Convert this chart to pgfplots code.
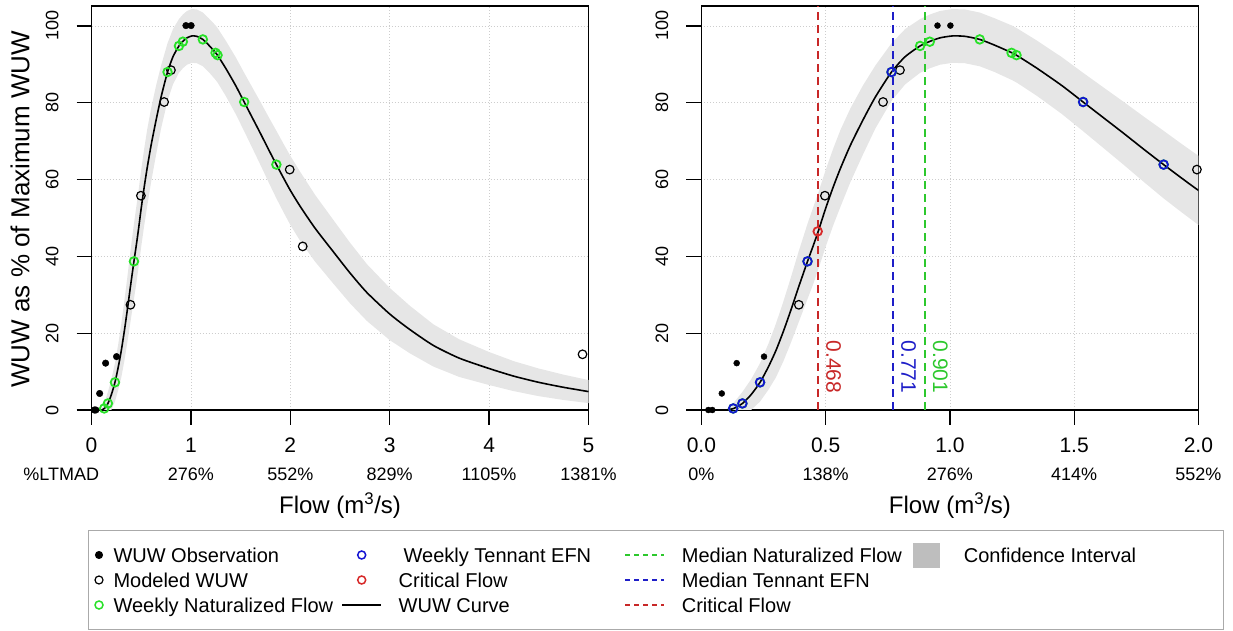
\documentclass[border=0pt]{standalone}
\usepackage{fontspec}
\setmainfont{Liberation Sans}
\usepackage{pgfplots}
\usepackage{pgfplotstable}
\pgfplotsset{compat=1.18}

\definecolor{ptgreen}{RGB}{40,225,40}
\definecolor{lngreen}{RGB}{45,200,45}
\definecolor{ptblue}{RGB}{20,20,210}
\definecolor{lnblue}{RGB}{30,30,200}
\definecolor{ptred}{RGB}{215,40,40}
\definecolor{lnred}{RGB}{200,40,40}
\definecolor{bandc}{RGB}{230,230,230}
\definecolor{legsq}{RGB}{190,190,190}
\definecolor{gridc}{RGB}{205,205,205}
\definecolor{legbd}{RGB}{170,170,170}

% fitted WUW curve
\pgfplotstableread{
x y
0.10 0.0
0.13 0.4
0.165 1.7
0.20 4.0
0.236 7.2
0.27 11.3
0.30 15.5
0.33 20.5
0.36 26.0
0.39 31.8
0.427 38.7
0.45 42.8
0.47 46.5
0.50 52.5
0.53 58.0
0.56 63.0
0.60 69.0
0.65 75.5
0.70 81.5
0.765 88.0
0.82 92.0
0.88 94.8
0.92 96.0
0.96 96.9
1.01 97.4
1.06 97.3
1.12 96.5
1.18 95.0
1.25 93.0
1.27 92.3
1.35 89.0
1.45 84.5
1.536 80.2
1.62 76.0
1.70 72.0
1.78 67.9
1.86 63.9
1.93 60.5
2.00 57.2
2.10 53.0
2.25 47.3
2.43 41.3
2.60 35.7
2.77 30.6
3.00 25.0
3.20 21.0
3.44 16.8
3.70 13.5
4.00 10.8
4.25 8.8
4.50 7.2
4.75 5.9
5.00 4.8
}\curve

% confidence band: upper edge forward, lower edge back
\pgfplotstableread{
x y
0.10 0.0
0.13 1.9
0.165 4.7
0.20 8.0
0.236 12.2
0.27 17.3
0.30 22.5
0.33 28.3
0.36 34.5
0.39 41.0
0.427 48.5
0.45 52.8
0.47 56.5
0.50 62.5
0.53 68.0
0.56 73.0
0.60 78.6
0.65 84.5
0.70 89.7
0.765 95.5
0.82 99.2
0.88 101.8
0.92 103.0
0.96 103.9
1.01 104.4
1.06 104.3
1.12 103.5
1.18 102.0
1.25 100.1
1.27 99.4
1.35 96.2
1.45 91.9
1.536 87.8
1.62 83.9
1.70 80.2
1.78 76.4
1.86 72.7
1.93 69.4
2.00 66.2
2.10 62.0
2.25 56.0
2.43 49.6
2.60 43.6
2.77 38.0
3.00 31.8
3.20 27.2
3.44 22.3
3.70 18.4
4.00 15.1
4.25 12.7
4.50 10.8
4.75 9.2
5.00 7.8
5.00 1.8
4.75 2.6
4.50 3.6
4.25 4.9
4.00 6.5
3.70 8.6
3.44 11.3
3.20 14.8
3.00 18.2
2.77 23.2
2.60 27.8
2.43 33.0
2.25 38.6
2.10 44.0
2.00 48.2
1.93 51.6
1.86 55.1
1.78 59.4
1.70 63.8
1.62 68.1
1.536 72.6
1.45 77.1
1.35 81.8
1.27 85.2
1.25 85.9
1.18 88.0
1.12 89.5
1.06 90.3
1.01 90.4
0.96 89.9
0.92 89.0
0.88 87.8
0.82 84.8
0.765 80.5
0.70 73.3
0.65 66.5
0.60 59.4
0.56 53.0
0.53 48.0
0.50 42.5
0.47 36.5
0.45 32.8
0.427 28.9
0.39 22.6
0.36 17.5
0.33 12.7
0.30 8.5
0.27 5.3
0.236 2.2
0.20 0.0
0.165 0.0
0.13 0.0
0.10 0.0
}\band

\pgfplotstableread{
x y
0.028 0.0
0.044 0.0
0.082 4.3
0.142 12.2
0.252 13.9
0.950 100.1
1.002 100.1
}\obs

\pgfplotstableread{
x y
0.392 27.4
0.497 55.8
0.731 80.2
0.799 88.5
1.994 62.6
2.125 42.6
4.940 14.5
}\modeled

\pgfplotstableread{
x y
0.128 0.4
0.165 1.7
0.236 7.2
0.427 38.7
0.765 88.0
0.880 94.8
0.919 95.9
1.120 96.5
1.248 93.0
1.268 92.4
1.536 80.2
1.860 63.9
}\natflow

\pgfplotstableread{
x y
0.128 0.4
0.165 1.7
0.236 7.2
0.427 38.7
0.765 88.0
1.536 80.2
1.860 63.9
}\tennant

\pgfplotstableread{
x y
0.468 46.5
}\critical

\pgfplotsset{
  panel/.style={
    scale only axis, width=497pt, height=404pt,
    ymin=0, ymax=105.2, ytick={0,20,40,60,80,100}, yticklabels={,,,,,},
    axis line style={line width=1.3pt},
    tick style={line width=1.3pt, black},
    major tick length=15pt, tick align=outside,
    xtick pos=bottom, ytick pos=left,
    xmajorgrids, ymajorgrids,
    major grid style={line width=0.8pt, color=gridc, dash pattern=on 1pt off 2pt},
    /pgf/number format/assume math mode=true,
    xticklabel style={anchor=base, inner sep=0pt, yshift=-27.5pt, font=\fontsize{21}{21}\selectfont},
    extra x tick style={grid=none, major tick length=0pt, xticklabel style={yshift=-42.9pt, font=\fontsize{18}{18}\selectfont}},
    xlabel={Flow (m\textsuperscript{3}/s)},
    xlabel style={at={(axis description cs:0.5,-0.2376)}, anchor=center, inner sep=0pt, font=\fontsize{24}{24}\selectfont},
  },
  obsst/.style={only marks, mark=*, mark size=3.3pt, black, forget plot},
  modst/.style={only marks, mark=o, mark size=4.3pt, black, mark options={line width=1.2pt}, forget plot},
  natst/.style={only marks, mark=o, mark size=4.3pt, ptgreen, mark options={line width=1.8pt}, forget plot},
  tenst/.style={only marks, mark=o, mark size=4.3pt, ptblue, mark options={line width=1.8pt}, forget plot},
  crst/.style={only marks, mark=o, mark size=4.3pt, ptred, mark options={line width=1.8pt}, forget plot},
  curvest/.style={black, line width=1.6pt, smooth, tension=0.4, no marks, forget plot},
  bandst/.style={fill=bandc, draw=none, no marks, forget plot},
  vdash/.style={line width=1.7pt, dash pattern=on 8pt off 5pt, no marks, forget plot},
}

\begin{document}
\begin{tikzpicture}
\path[use as bounding box] (0pt,0pt) rectangle (1233pt,631pt);

% ---------------- left panel
\begin{axis}[panel, at={(91.5pt,221pt)}, anchor=south west,
  xmin=0, xmax=5, xtick={0,1,2,3,4,5}, xticklabels={0,1,2,3,4,5},
  extra x ticks={0,1,2,3,4,5},
  extra x tick labels={\makebox[0pt]{\kern-60.4pt\%LTMAD},276\%,552\%,829\%,1105\%,1381\%},
  ylabel={WUW as \% of Maximum WUW},
  ylabel style={at={(axis description cs:-0.1439,0.497)}, anchor=center, inner sep=0pt, font=\fontsize{26}{26}\selectfont},
  legend columns=4, legend cell align=left,
  legend style={at={(axis description cs:-0.00704,-0.54455)}, anchor=south west,
    draw=legbd, line width=1pt, fill=white, inner xsep=1pt, inner ysep=12pt,
    /tikz/column sep=0pt, /tikz/row sep=0pt,
    font=\fontsize{20}{24}\selectfont,
    cells={anchor=west},
    nodes={inner sep=0pt, text height=14.3pt, text depth=0pt}},
]
\addplot[bandst] table {\band} \closedcycle;
\addplot[curvest] table {\curve};
\addplot[obsst] table {\obs};
\addplot[modst] table {\modeled};
\addplot[natst] table {\natflow};

% legend, row by row
\addlegendimage{legend image code/.code={\fill[white] (0pt,-12pt) rectangle (23pt,12pt); \fill[black] (9pt,0pt) circle[radius=3.5pt];}}
\addlegendentry{\makebox[228pt][l]{WUW Observation}}
\addlegendimage{legend image code/.code={\fill[white] (0pt,-12pt) rectangle (56pt,12pt); \draw[ptblue, line width=1.5pt] (19.5pt,0pt) circle[radius=4pt];}}
\addlegendentry{\makebox[226pt][l]{\hspace{5pt}Weekly Tennant EFN}}
\addlegendimage{legend image code/.code={\fill[white] (0pt,-12pt) rectangle (56pt,12pt); \draw[lngreen, line width=1.3pt, dash pattern=on 5pt off 4pt] (0pt,0pt) -- (39pt,0pt);}}
\addlegendentry{\makebox[231pt][l]{Median Naturalized Flow}}
\addlegendimage{legend image code/.code={\fill[white] (0pt,-12pt) rectangle (50pt,12pt); \fill[legsq] (0pt,-12pt) rectangle (26pt,12pt);}}
\addlegendentry{\makebox[259pt][l]{Confidence Interval}}

\addlegendimage{legend image code/.code={\fill[white] (0pt,-12pt) rectangle (23pt,12pt); \draw[black, line width=1.2pt] (9pt,0pt) circle[radius=4pt];}}
\addlegendentry{\makebox[228pt][l]{Modeled WUW}}
\addlegendimage{legend image code/.code={\fill[white] (0pt,-12pt) rectangle (56pt,12pt); \draw[ptred, line width=1.5pt] (19.5pt,0pt) circle[radius=4pt];}}
\addlegendentry{\makebox[226pt][l]{Critical Flow}}
\addlegendimage{legend image code/.code={\fill[white] (0pt,-12pt) rectangle (56pt,12pt); \draw[lnblue, line width=1.3pt, dash pattern=on 5pt off 4pt] (0pt,0pt) -- (39pt,0pt);}}
\addlegendentry{\makebox[231pt][l]{Median Tennant EFN}}
\addlegendimage{legend image code/.code={\fill[white] (0pt,-12pt) rectangle (50pt,12pt);}}
\addlegendentry{\makebox[259pt][l]{}}

\addlegendimage{legend image code/.code={\fill[white] (0pt,-12pt) rectangle (23pt,12pt); \draw[ptgreen, line width=1.5pt] (9pt,0pt) circle[radius=4pt];}}
\addlegendentry{\makebox[228pt][l]{Weekly Naturalized Flow}}
\addlegendimage{legend image code/.code={\fill[white] (0pt,-12pt) rectangle (56pt,12pt); \draw[black, line width=1.4pt] (0pt,0pt) -- (39pt,0pt);}}
\addlegendentry{\makebox[226pt][l]{WUW Curve}}
\addlegendimage{legend image code/.code={\fill[white] (0pt,-12pt) rectangle (56pt,12pt); \draw[lnred, line width=1.3pt, dash pattern=on 5pt off 4pt] (0pt,0pt) -- (39pt,0pt);}}
\addlegendentry{\makebox[231pt][l]{Critical Flow}}
\addlegendimage{legend image code/.code={\fill[white] (0pt,-12pt) rectangle (50pt,12pt);}}
\addlegendentry{\makebox[259pt][l]{}}
\end{axis}

% ---------------- right panel
\begin{axis}[panel, at={(701.4pt,221pt)}, anchor=south west,
  xmin=0, xmax=2, xtick={0,0.5,1,1.5,2}, xticklabels={0.0,0.5,1.0,1.5,2.0},
  extra x ticks={0,0.5,1,1.5,2},
  extra x tick labels={0\%,138\%,276\%,414\%,552\%},
]
\addplot[bandst] table {\band} \closedcycle;
\addplot[curvest] table {\curve};
\addplot[obsst, mark size=3.0pt] table {\obs};
\addplot[modst, restrict x to domain=0:2] table {\modeled};
\addplot[natst] table {\natflow};
\addplot[tenst] table {\tennant};
\addplot[crst] table {\critical};
\addplot[vdash, lnred] coordinates {(0.468,0) (0.468,105.2)};
\addplot[vdash, lnblue] coordinates {(0.771,0) (0.771,105.2)};
\addplot[vdash, lngreen] coordinates {(0.901,0) (0.901,105.2)};
\node[rotate=-90, text=lnred, inner sep=0pt, font=\fontsize{21}{21}\selectfont] at ([xshift=16pt]axis cs:0.468,11.2) {0.468};
\node[rotate=-90, text=lnblue, inner sep=0pt, font=\fontsize{21}{21}\selectfont] at ([xshift=15.5pt]axis cs:0.771,11.2) {0.771};
\node[rotate=-90, text=lngreen, inner sep=0pt, font=\fontsize{21}{21}\selectfont] at ([xshift=15pt]axis cs:0.901,11.2) {0.901};
\end{axis}

% y tick labels (rotated, parallel to the axis), both panels
\foreach \v/\yy in {0/221,20/297.81,40/374.62,60/451.43,80/528.24,100/605.05} {
  \node[rotate=90, anchor=base, inner sep=0pt, font=\fontsize{18}{18}\selectfont] at (58.3pt,\yy pt) {\v};
  \node[rotate=90, anchor=base, inner sep=0pt, font=\fontsize{18}{18}\selectfont] at (668.2pt,\yy pt) {\v};
}
\end{tikzpicture}
\end{document}
